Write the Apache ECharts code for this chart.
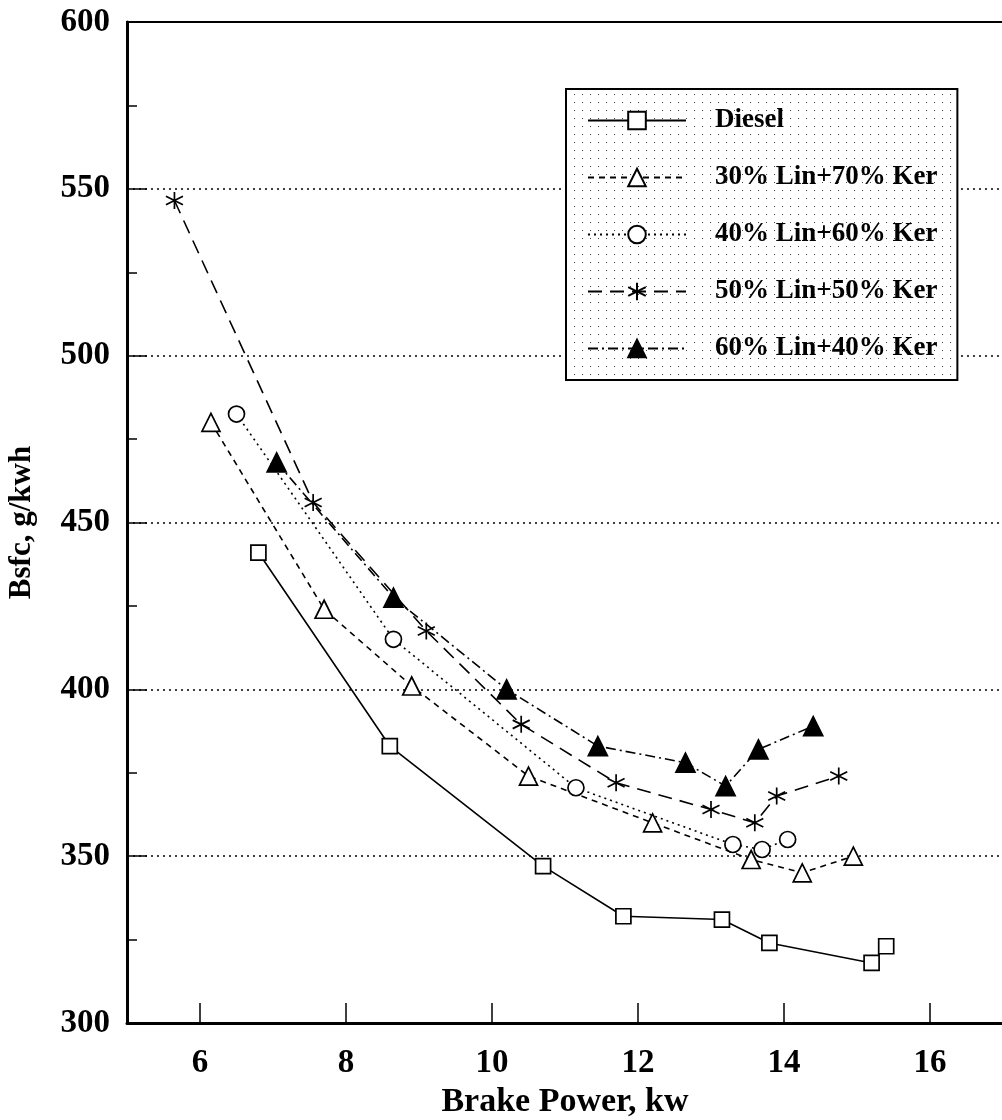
<!DOCTYPE html>
<html>
<head>
<meta charset="utf-8">
<title>Bsfc vs Brake Power</title>
<script src="https://cdn.jsdelivr.net/npm/echarts@6/dist/echarts.min.js"></script>
<style>
  html, body { margin: 0; padding: 0; background: #fff; }
  #main { width: 1002px; height: 1120px; }
</style>
</head>
<body>
<div id="main"></div>
<script>
  // data: [brake power kw, bsfc g/kwh]
  var diesel = [[6.8, 441], [8.6, 383], [10.7, 347], [11.8, 332], [13.15, 331], [13.8, 324], [15.2, 318], [15.4, 323]];
  var lin30 = [[6.15, 480], [7.7, 424], [8.9, 401], [10.5, 374], [12.2, 360], [13.55, 349], [14.25, 345], [14.95, 350]];
  var lin40 = [[6.5, 482.5], [8.65, 415], [11.15, 370.5], [13.3, 353.5], [13.7, 352], [14.05, 355]];
  var lin50 = [[5.65, 546.5], [7.55, 456], [9.1, 417.5], [10.4, 389.5], [11.7, 372], [13.0, 364], [13.6, 360], [13.9, 368], [14.75, 374]];
  var lin60 = [[7.05, 468], [8.65, 427.5], [10.2, 400], [11.45, 383], [12.65, 378], [13.2, 371], [13.65, 382], [14.4, 389]];
  var seriesNames = ['Diesel', '30% Lin+70% Ker', '40% Lin+60% Ker', '50% Lin+50% Ker', '60% Lin+40% Ker'];
  var xTicks = [6, 8, 10, 12, 14, 16];

  var font = 'Liberation Serif';
  var star = 'path://M0,-10 L0,10 M-8.66,-5 L8.66,5 M-8.66,5 L8.66,-5';

  // dotted fill for the legend box
  var dots = document.createElement('canvas');
  dots.width = 8; dots.height = 8;
  var ctx = dots.getContext('2d');
  ctx.fillStyle = '#fff';
  ctx.fillRect(0, 0, 8, 8);
  ctx.fillStyle = '#444';
  ctx.fillRect(3, 3, 1, 1);

  function mk(name, data, symbol, size, fill, dash) {
    return {
      name: name,
      type: 'line',
      data: data,
      symbol: symbol,
      symbolSize: size,
      showSymbol: true,
      animation: false,
      z: 3,
      itemStyle: { color: fill, borderColor: '#000', borderWidth: 1.7 },
      lineStyle: { color: '#000', width: 1.6, type: dash }
    };
  }

  var myChart = echarts.init(document.getElementById('main'));
  var option = {
    backgroundColor: '#fff',
    animation: false,
    grid: {
      left: 127, top: 22, right: -1, bottom: 97,
      outerBoundsMode: 'none',
      show: true, borderColor: '#000', borderWidth: 2, backgroundColor: 'transparent'
    },
    legend: {
      orient: 'vertical',
      left: 566, top: 89,
      width: 396, height: 266,
      padding: [18, 20, 18, 21],
      itemWidth: 98, itemHeight: 22, itemGap: 30,
      backgroundColor: { image: dots, repeat: 'repeat' },
      borderColor: '#000', borderWidth: 2,
      data: seriesNames,
      textStyle: {
        fontFamily: font, fontWeight: 'bold', fontSize: 27, color: '#000',
        padding: [0, 0, 0, 24], width: 260
      }
    },
    xAxis: {
      type: 'value',
      min: 5, max: 17,
      name: 'Brake Power, kw',
      nameLocation: 'middle',
      nameGap: 60,
      nameTextStyle: { fontFamily: font, fontWeight: 'bold', fontSize: 34, color: '#000', verticalAlign: 'top' },
      axisLine: { onZero: false, lineStyle: { color: '#000', width: 3 } },
      axisTick: { inside: true, length: 20, customValues: xTicks, lineStyle: { color: '#000', width: 1.5 } },
      axisLabel: { customValues: xTicks, margin: 24, fontFamily: font, fontWeight: 'bold', fontSize: 33, color: '#000' },
      splitLine: { show: false }
    },
    yAxis: {
      type: 'value',
      min: 300, max: 600, interval: 50,
      name: 'Bsfc, g/kwh',
      nameLocation: 'middle',
      nameGap: 90,
      nameTextStyle: { fontFamily: font, fontWeight: 'bold', fontSize: 31, color: '#000' },
      axisLine: { show: true, lineStyle: { color: '#000', width: 3 } },
      axisTick: { inside: true, length: 20, lineStyle: { color: '#000', width: 1.5 } },
      minorTick: { show: true, splitNumber: 2, length: 10, lineStyle: { color: '#000', width: 1.5 } },
      axisLabel: { margin: 17, fontFamily: font, fontWeight: 'bold', fontSize: 33, color: '#000' },
      splitLine: { show: true, lineStyle: { color: '#000', width: 1.5, type: [2, 4] } }
    },
    series: [
      mk(seriesNames[0], diesel, 'rect', 15, '#fff', 'solid'),
      mk(seriesNames[1], lin30, 'triangle', 18, '#fff', [6, 5]),
      mk(seriesNames[2], lin40, 'circle', 16, '#fff', [2, 4]),
      mk(seriesNames[3], lin50, star, 17, 'none', [14, 8]),
      mk(seriesNames[4], lin60, 'triangle', 19, '#000', [10, 4, 2, 4])
    ]
  };
  myChart.setOption(option);
</script>
</body>
</html>
